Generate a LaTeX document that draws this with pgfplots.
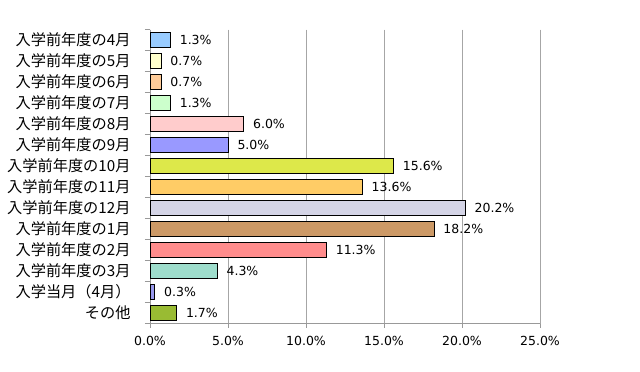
\documentclass[border=0pt]{standalone}
\usepackage{pgfplots}
\pgfplotsset{compat=1.18}
\usepackage{fontspec}
\setmainfont{DejaVu Sans}
\newfontfamily\cjk{Noto Sans CJK JP}
\definecolor{c1}{HTML}{99CCFF}
\definecolor{c2}{HTML}{FFFFCC}
\definecolor{c3}{HTML}{FFCC99}
\definecolor{c4}{HTML}{CCFFCC}
\definecolor{c5}{HTML}{FFCCCC}
\definecolor{c6}{HTML}{9999FF}
\definecolor{c7}{HTML}{DDE84A}
\definecolor{c8}{HTML}{FFCC66}
\definecolor{c9}{HTML}{D4D4E6}
\definecolor{c10}{HTML}{CC9966}
\definecolor{c11}{HTML}{FF8C8C}
\definecolor{c12}{HTML}{9EDDCC}
\definecolor{c13}{HTML}{9999EE}
\definecolor{c14}{HTML}{99BB33}
\pgfplotstableread{
y v
0 1.3
1 0.7
2 0.7
3 1.3
4 6.0
5 5.0
6 15.6
7 13.6
8 20.2
9 18.2
10 11.3
11 4.3
12 0.3
13 1.7
}\data
\begin{document}
\begin{tikzpicture}
\useasboundingbox (0,0) rectangle (640bp,372bp);
\begin{axis}[
  at={(150bp,48.5bp)}, anchor=south west,
  scale only axis, width=390bp, height=294bp,
  xmin=0, xmax=25, ymin=-0.5, ymax=13.5, y dir=reverse,
  xtick={0,5,10,15,20,25},
  xticklabels={0.0\%,5.0\%,10.0\%,15.0\%,20.0\%,25.0\%},
  x tick label style={font=\fontsize{12.5bp}{14bp}\selectfont, yshift=-5bp},
  xmajorgrids, grid style={gray!70, line width=0.8bp},
  axis x line*=bottom, axis y line*=left,
  axis line style={gray!80, line width=0.8bp},
  x axis line style={-}, y axis line style={-},
  xtick style={draw=gray!80, line width=0.8bp},
  xtick align=outside, major tick length=4bp,
  ytick={0,...,13},
  yticklabels={入学前年度の4月,入学前年度の5月,入学前年度の6月,入学前年度の7月,入学前年度の8月,入学前年度の9月,入学前年度の10月,入学前年度の11月,入学前年度の12月,入学前年度の1月,入学前年度の2月,入学前年度の3月,入学当月（4月）,その他},
  y tick label style={font=\cjk\fontsize{15.2bp}{17bp}\selectfont, xshift=-16bp},
  ytick style={draw=none},
  extra y ticks={-0.5,0.5,...,13.5},
  extra y tick labels={},
  extra y tick style={ytick style={draw=gray!80, line width=0.8bp}, tick align=outside, major tick length=5bp, grid=none},
  clip=false,
]
\addplot[xbar, bar width=15bp, fill=c1, draw=black, line width=0.8bp] coordinates {(1.3,0)};
\addplot[xbar, bar width=15bp, fill=c2, draw=black, line width=0.8bp] coordinates {(0.7,1)};
\addplot[xbar, bar width=15bp, fill=c3, draw=black, line width=0.8bp] coordinates {(0.7,2)};
\addplot[xbar, bar width=15bp, fill=c4, draw=black, line width=0.8bp] coordinates {(1.3,3)};
\addplot[xbar, bar width=15bp, fill=c5, draw=black, line width=0.8bp] coordinates {(6.0,4)};
\addplot[xbar, bar width=15bp, fill=c6, draw=black, line width=0.8bp] coordinates {(5.0,5)};
\addplot[xbar, bar width=15bp, fill=c7, draw=black, line width=0.8bp] coordinates {(15.6,6)};
\addplot[xbar, bar width=15bp, fill=c8, draw=black, line width=0.8bp] coordinates {(13.6,7)};
\addplot[xbar, bar width=15bp, fill=c9, draw=black, line width=0.8bp] coordinates {(20.2,8)};
\addplot[xbar, bar width=15bp, fill=c10, draw=black, line width=0.8bp] coordinates {(18.2,9)};
\addplot[xbar, bar width=15bp, fill=c11, draw=black, line width=0.8bp] coordinates {(11.3,10)};
\addplot[xbar, bar width=15bp, fill=c12, draw=black, line width=0.8bp] coordinates {(4.3,11)};
\addplot[xbar, bar width=15bp, fill=c13, draw=black, line width=0.8bp] coordinates {(0.3,12)};
\addplot[xbar, bar width=15bp, fill=c14, draw=black, line width=0.8bp] coordinates {(1.7,13)};
\addplot[only marks, mark=none, nodes near coords={\pgfmathprintnumber[fixed, fixed zerofill, precision=1, assume math mode=true]{\pgfplotspointmeta}\%},
  point meta=x, nodes near coords align={anchor=west},
  every node near coord/.append style={font=\fontsize{12.5bp}{14bp}\selectfont, xshift=6bp}]
  table[x=v, y=y] {\data};
\end{axis}
\end{tikzpicture}
\end{document}
